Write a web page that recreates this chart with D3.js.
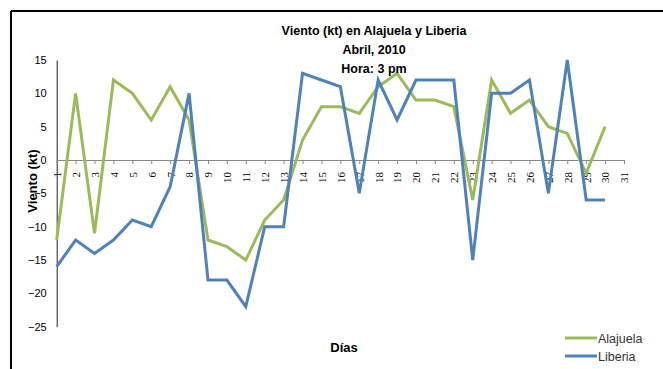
<!DOCTYPE html>
<html><head><meta charset="utf-8">
<script src="https://cdn.jsdelivr.net/npm/d3@7"></script>
<style>body{margin:0;background:#fff}svg{display:block}</style>
</head><body>
<svg id="c" width="663" height="369"></svg>
<script>
const days = d3.range(1, 32);
const alajuela = [-12,10,-11,12,10,6,11,6,-12,-13,-15,-9,-6,3,8,8,7,11,13,9,9,8,-6,12,7,9,5,4,-2,5];
const liberia = [-16,-12,-14,-12,-9,-10,-4,10,-18,-18,-22,-10,-10,13,12,11,-5,12,6,12,12,12,-15,10,10,12,-5,15,-6,-6];
const yTicks = [15,10,5,0,-5,-10,-15,-20,-25];
const seriesNames = ["Alajuela","Liberia"];
const colors = ["#9BBB59","#4F81BD"];

const svg = d3.select("#c");
const font = "'Liberation Sans', Arial, sans-serif";

// outer frame (top and left edges visible)
svg.append("line").attr("x1",11).attr("x2",663).attr("y1",11).attr("y2",11).attr("stroke","#000").attr("stroke-width",2);
svg.append("line").attr("x1",11).attr("x2",11).attr("y1",11).attr("y2",369).attr("stroke","#000").attr("stroke-width",2);

const x = d3.scalePoint().domain(days).range([56.7, 624]);
const y = d3.scaleLinear().domain([-25, 15]).range([326.7, 60]);

// y axis
const ya = svg.append("g").attr("transform","translate(56.7,0)")
  .call(d3.axisLeft(y).tickValues(yTicks).tickSize(0).tickPadding(10).tickFormat(d3.format("d")));
ya.select(".domain").attr("stroke","#222").attr("stroke-width",1);
ya.selectAll("text").attr("font-family",font).attr("font-size",11).attr("fill","#000");

// x axis at y=0
const xa = svg.append("g").attr("transform",`translate(0,${y(0)})`)
  .call(d3.axisBottom(x).tickSize(4).tickSizeOuter(0));
xa.select(".domain").attr("stroke","#888").attr("stroke-width",1.2);
xa.selectAll(".tick line").attr("stroke","#888");
xa.selectAll("text").attr("font-family","'Liberation Serif', 'Times New Roman', serif").attr("font-size",11).attr("fill","#000")
  .attr("transform","rotate(-90)").attr("text-anchor","end").attr("dy","0.35em").attr("y",0)
  .attr("x",-12);

// lines
const line = d3.line().x((d,i)=>x(days[i])).y(d=>y(d));
[alajuela, liberia].forEach((s,k)=>{
  svg.append("path").datum(s).attr("d",line).attr("fill","none")
    .attr("stroke",colors[k]).attr("stroke-width",3).attr("stroke-linejoin","miter").attr("stroke-miterlimit",4);
});

// titles
const t = svg.append("text").attr("font-family",font).attr("font-weight","bold").attr("font-size",12.5).attr("fill","#000").attr("text-anchor","middle");
t.append("tspan").attr("x",374).attr("y",35).text("Viento (kt) en Alajuela y Liberia");
t.append("tspan").attr("x",374).attr("y",54).text("Abril, 2010");
t.append("tspan").attr("x",374).attr("y",73).text("Hora: 3 pm");

svg.append("text").attr("font-family",font).attr("font-weight","bold").attr("font-size",13)
  .attr("text-anchor","middle").attr("transform","translate(37,181) rotate(-90)").text("Viento  (kt)");
svg.append("text").attr("font-family",font).attr("font-weight","bold").attr("font-size",13)
  .attr("text-anchor","middle").attr("x",344).attr("y",352).text("Días");

// legend
seriesNames.forEach((n,k)=>{
  const ly = 338 + k*18;
  svg.append("line").attr("x1",565).attr("x2",597).attr("y1",ly).attr("y2",ly).attr("stroke",colors[k]).attr("stroke-width",3);
  svg.append("text").attr("x",598).attr("y",ly+4.5).attr("font-family",font).attr("font-size",12.5).attr("fill","#333").text(n);
});
</script>
</body></html>
